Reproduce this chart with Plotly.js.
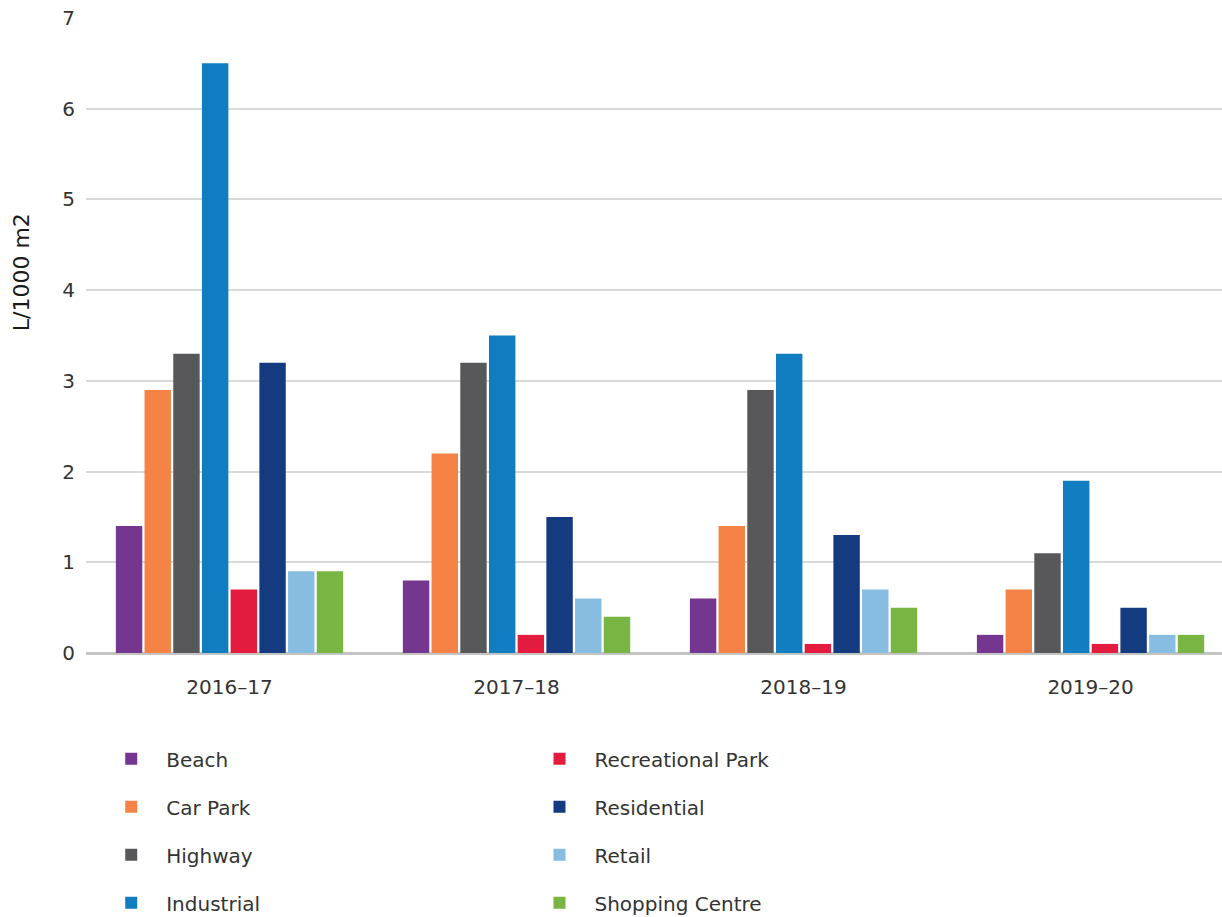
<!DOCTYPE html>
<html><head><meta charset="utf-8">
<script src="https://cdn.plot.ly/plotly-3.0.1.min.js"></script>
<style>html,body{margin:0;padding:0;background:#fff}#chart{width:1222px;height:917px}</style>
</head><body><div id="chart"></div>
<script>
const years = ["2016–17", "2017–18", "2018–19", "2019–20"];
const beach = [1.4, 0.8, 0.6, 0.2];
const carPark = [2.9, 2.2, 1.4, 0.7];
const highway = [3.3, 3.2, 2.9, 1.1];
const industrial = [6.5, 3.5, 3.3, 1.9];
const recreationalPark = [0.7, 0.2, 0.1, 0.1];
const residential = [3.2, 1.5, 1.3, 0.5];
const retail = [0.9, 0.6, 0.7, 0.2];
const shoppingCentre = [0.9, 0.4, 0.5, 0.2];
const yTitle = "L/1000 m2";

const seriesNames = ["Beach","Car Park","Highway","Industrial","Recreational Park","Residential","Retail","Shopping Centre"];
const seriesValues = [beach, carPark, highway, industrial, recreationalPark, residential, retail, shoppingCentre];
const colors = ["#74368f","#f58345","#58585a","#0f7dbf","#e31b3f","#143a7f","#86bde0","#79b542"];

const FONT = "'DejaVu Sans', Lato, sans-serif";

const traces = seriesNames.map((n,i)=>({
  type:"bar", name:n, x:years, y:seriesValues[i],
  marker:{color:colors[i], line:{width:0}},
  legend: i<4 ? "legend" : "legend2",
  legendgroup:"g"+i
}));

const legendCommon = {
  orientation:"v", xref:"paper", yref:"paper", xanchor:"left", yanchor:"top",
  font:{family:FONT, size:20, color:"#333"},
  tracegroupgap:19, itemwidth:60, bgcolor:"rgba(0,0,0,0)"
};

const layout = {
  width:1222, height:917,
  margin:{l:86, r:0, t:18, b:264, autoexpand:false},
  paper_bgcolor:"#fff", plot_bgcolor:"#fff",
  barmode:"group", bargap:0.2, bargroupgap:0.08,
  font:{family:FONT, size:19, color:"#333"},
  xaxis:{range:[-0.5,3.458], showgrid:false, tickfont:{size:20,color:"#333"}, ticks:"", showline:false, zeroline:false, ticklabelstandoff:20},
  yaxis:{range:[0,7], dtick:1, gridcolor:"#d9d9d9", gridwidth:2, zeroline:true, zerolinecolor:"#c4c4c4", zerolinewidth:3,
         tickfont:{size:20,color:"#333"}, ticks:"", ticklabelstandoff:10},
  annotations:[{text:yTitle, textangle:-90, xref:"paper", yref:"paper", x:-0.057, y:0.6,
                xanchor:"center", yanchor:"middle", showarrow:false,
                font:{family:FONT, size:22, color:"#1a1a1a"}}],
  showlegend:true,
  legend:Object.assign({}, legendCommon, {x:0.009, y:-0.136}),
  legend2:Object.assign({}, legendCommon, {x:0.386, y:-0.136})
};

Plotly.newPlot("chart", traces, layout, {displayModeBar:false});
</script></body></html>
